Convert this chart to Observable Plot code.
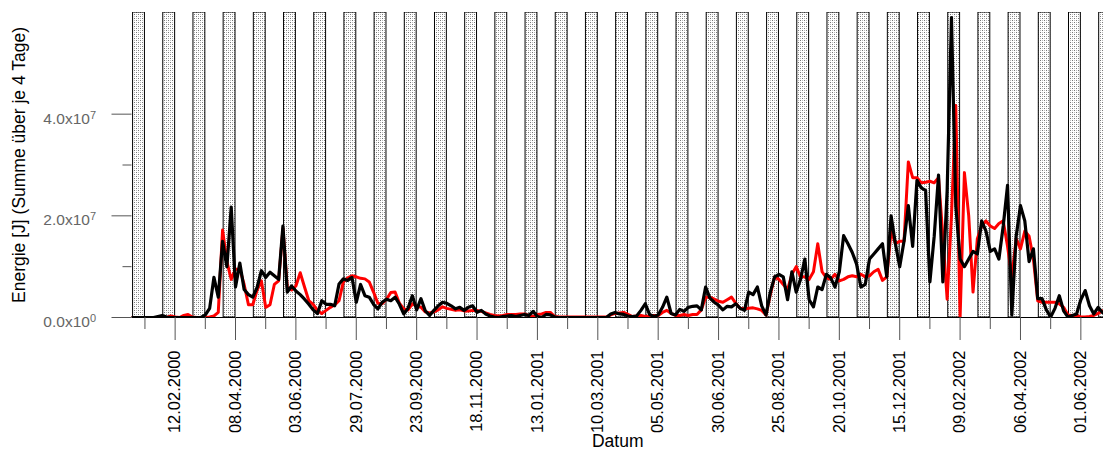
<!DOCTYPE html>
<html><head><meta charset="utf-8">
<script src="https://cdn.jsdelivr.net/npm/d3@7"></script>
<script src="https://cdn.jsdelivr.net/npm/@observablehq/plot@0.6"></script>
<style>
body{margin:0;background:#fff;}
#chart{width:1103px;height:453px;overflow:hidden;position:relative;}
</style></head><body><div id="chart"></div>
<script>
// ---- data (energy per 4-day sum, in 1e6 J) ----
const seriesStart = "2000-01-03";
const stepDays = 4;
const redValues = [
0,0,0,0,0,0,0,0,0,0.3, 0.1,0,0.4,0.6,0.1,0,0,0,0.1,0.3,
1.0,17.2,11,7.5,9.5,9.5,6.5,2.5,2.5,5.4, 7.2,2.0,2.5,6.5,7.2,17.5,6,5.4,6.2,8.8,
6.0,3.3,2.6,1.4,0.8,1.4,2.0,2.5,3.3,7.0, 7.8,8.2,8.0,7.7,7.6,7.0,5.0,2.8,2.7,3.6,
4.9,5.0,2.8,1.7,1.5,2.7,2.2,2.0,1.1,0.9, 1.1,1.5,2.1,1.8,1.6,1.4,1.5,1.3,1.3,1.4,
1.4,1.2,0.9,0.6,0.4,0.3,0.4,0.6,0.6,0.6, 0.7,0.7,0.4,0.2,0.6,0.7,1.0,1.0,0.2,0.1,
0.1,0.1,0.1,0.1,0.1,0.1,0.1,0.1,0.1,0.1, 0.1,0.5,0.8,0.9,1.0,0.6,0.2,0.3,0.4,0.2,
0.3,0.4,0.4,1.0,1.4,0.8,0.4,0.4,0.6,0.4, 0.6,0.6,1.5,4.0,4.0,3.6,3.2,3.0,3.5,4.0,
2.8,1.8,1.7,1.8,1.9,1.7,1.4,0.5,4.5,8.0, 7.5,6.5,5.5,8.5,10.0,8.0,8.0,7.5,9.0,14.5,
9.0,7.8,7.5,8.5,7.2,7.5,8,8.2,8,8.5, 8,8.2,9,9.5,7.3,8,17,14.5,15,15,
30.6,27.5,27.5,26.5,26.6,26.8,26.5,27.5,16,3.6, 20,41.7,0,28.5,20,5,15.5,18,19,18,
17.5,18.5,19,14,8,15.5,13.5,17,16,11.5, 3.3,3.0,3.0,3.0,3.0,2.7,2.0,0.5,0.4,0.4,
0.1,0.1,0.2,0.4,0.8,1.3
];
const blackValues = [
0,0,0,0,0,0,0.2,0.4,0.1,0, 0,0,0,0,0,0,0,0.5,1.8,7.9,
4.0,15,10,21.7,6,10.7,5.5,4.5,4.0,5.9, 9.2,7.9,8.9,8.2,7.5,18,5,6.2,5.2,4.5,
3.6,2.6,1.5,0.8,3.3,2.6,2.6,2.3,6.6,7.6, 7.3,7.9,3,6.5,4.3,4.0,2.6,1.7,3.0,3.6,
3.3,4.0,2.6,0.7,1.8,4.3,1.5,3.7,1.3,0.4, 1.4,2.3,3.0,2.8,2.3,1.7,2.0,1.4,2.0,2.3,
1.0,1.4,0.7,0.3,0.1,0,0.2,0.3,0.4,0.2, 0.4,0.6,0.4,1.2,0.2,0,0.6,0.5,0.1,0,
0,0,0,0,0,0,0,0,0,0, 0,0.7,1.0,0.7,0.6,0.3,0.2,0.3,1.4,2.7,
0.6,0.2,0.5,2.0,4.0,0.8,0.5,1.6,1.2,2.0, 2.2,2.3,1.5,6.0,3.8,3.0,2.4,1.5,2.2,2.1,
2.7,1.8,1.4,5.0,4.5,6.0,2.3,0.5,5,8.0, 8.5,8.0,3.5,9.0,5.0,7.5,11.5,3.5,2.1,6.0,
5.5,8.5,7.8,6.0,9,16.1,14.5,12.8,10.5,6.0, 6.5,11.5,12.5,13.5,14.5,8,20,14.5,10,15,
22,14,27,25.5,25,7,16,28,7,25, 59,22,11.5,10,11.5,13,12.5,19,17,13,
13.5,11.5,18,26,0.5,16,22,19,11,13.5, 3.7,3.7,1.5,0.1,1.8,4.3,1.3,0.1,0.4,0.7,
3.5,5.3,2.3,0.7,2.0,1.0
];
const majorTicks = ["2000-02-12","2000-04-08","2000-06-03","2000-07-29","2000-09-23","2000-11-18",
  "2001-01-13","2001-03-10","2001-05-05","2001-06-30","2001-08-25","2001-10-20","2001-12-15",
  "2002-02-09","2002-04-06","2002-06-01"];
const minorTicks = ["2000-01-15","2000-03-11","2000-05-06","2000-07-01","2000-08-26","2000-10-21",
  "2000-12-16","2001-02-10","2001-04-07","2001-06-02","2001-07-28","2001-09-22","2001-11-17",
  "2002-01-12","2002-03-09","2002-05-04"];
const barEnds = [...minorTicks, ...majorTicks, "2002-06-29"];
const yMajor = [0, 2e7, 4e7];
const yMinor = [1e7, 3e7];
const xDomain = ["2000-01-03", "2002-06-22"];
const yTitle = "Energie [J] (Summe über je 4 Tage)";
const xTitle = "Datum";

// ---- build ----
const parse = d3.utcParse("%Y-%m-%d");
const start = parse(seriesStart);
const rows = vals => vals.map((v, i) => ({date: d3.utcDay.offset(start, i * stepDays), value: v * 1e6}));
const red = rows(redValues);
const black = rows(blackValues);
const barDays = 11;
const bars = barEnds.map(parse).map(e => ({x1: d3.utcDay.offset(e, -barDays), x2: e}));
const majorDates = majorTicks.map(parse);
const minorDates = minorTicks.map(parse);
const fmtDate = d3.utcFormat("%d.%m.%Y");
const fmtSci = d => {
  const e = d === 0 ? 0 : Math.floor(Math.log10(d));
  const m = d / Math.pow(10, e);
  return m.toFixed(1) + "x10^" + e;
};
const font = "'Liberation Sans', Arial, sans-serif";

const svg = Plot.plot({
  width: 1103, height: 453,
  marginLeft: 131.5, marginRight: 0, marginTop: 12, marginBottom: 136,
  style: {fontFamily: font, background: "white"},
  x: {type: "utc", domain: xDomain.map(parse)},
  y: {domain: [0, 6e7]},
  marks: [
    Plot.rect(bars, {x1: "x1", x2: "x2", y1: 0, y2: 6e7, fill: "#fefefe", stroke: "black", strokeWidth: 1, clip: true}),
    Plot.line(red, {x: "date", y: "value", stroke: "#ff0000", strokeWidth: 3, clip: true}),
    Plot.line(black, {x: "date", y: "value", stroke: "#000000", strokeWidth: 3.2, clip: true}),
    Plot.ruleY([0], {stroke: "black", strokeWidth: 1}),
    Plot.axisX(minorDates, {tickSize: 12, tickFormat: () => "", stroke: "#555", label: null}),
    Plot.axisX(majorDates, {tickSize: 23, tickFormat: () => "", stroke: "#555", label: null}),
    Plot.text(majorDates, {x: d => d, text: d => fmtDate(d), frameAnchor: "bottom", dy: 33, rotate: -90,
      textAnchor: "end", lineAnchor: "middle", fontSize: 16.5, fill: "black"}),
    Plot.axisY(yMinor, {tickSize: 9, tickFormat: () => "", stroke: "#555", label: null}),
    Plot.axisY(yMajor, {tickSize: 20, tickFormat: () => "", stroke: "#555", label: null}),
    Plot.axisY(yMajor, {tickSize: 0, tickPadding: 36, tickFormat: fmtSci, dy: 4.5, fontSize: 15.5, fill: "#666", label: null}),
    Plot.text([xTitle], {frameAnchor: "bottom", dy: 129, fontSize: 17.5, fill: "black"}),
    Plot.text([yTitle], {frameAnchor: "left", rotate: -90, dx: -112.5, textAnchor: "middle", lineAnchor: "middle", fontSize: 17.5, fill: "black"})
  ]
});

const defs = d3.select(svg).insert("defs", ":first-child");
const pat = defs.append("pattern").attr("id", "stipple").attr("patternUnits", "userSpaceOnUse")
  .attr("width", 4).attr("height", 4);
pat.append("rect").attr("width", 4).attr("height", 4).attr("fill", "#ffffff");
pat.append("rect").attr("x", 0).attr("y", 0).attr("width", 1).attr("height", 1).attr("fill", "#777777");
pat.append("rect").attr("x", 2).attr("y", 2).attr("width", 1).attr("height", 1).attr("fill", "#777777");
pat.append("rect").attr("x", 2).attr("y", 0).attr("width", 1).attr("height", 1).attr("fill", "#bbbbbb");
pat.append("rect").attr("x", 0).attr("y", 2).attr("width", 1).attr("height", 1).attr("fill", "#bbbbbb");
d3.select(svg).selectAll("[fill='#fefefe']").attr("fill", "url(#stipple)");

// superscript exponents in y tick labels
d3.select(svg).selectAll("text").each(function() {
  const t = this.textContent;
  const m = /^(.*x10)\^(\d+)$/.exec(t);
  if (!m) return;
  const sel = d3.select(this);
  sel.text(null);
  sel.append("tspan").text(m[1]);
  sel.append("tspan").attr("dy", "-0.45em").attr("font-size", "11px").text(m[2]);
});
document.getElementById("chart").appendChild(svg);
</script></body></html>
